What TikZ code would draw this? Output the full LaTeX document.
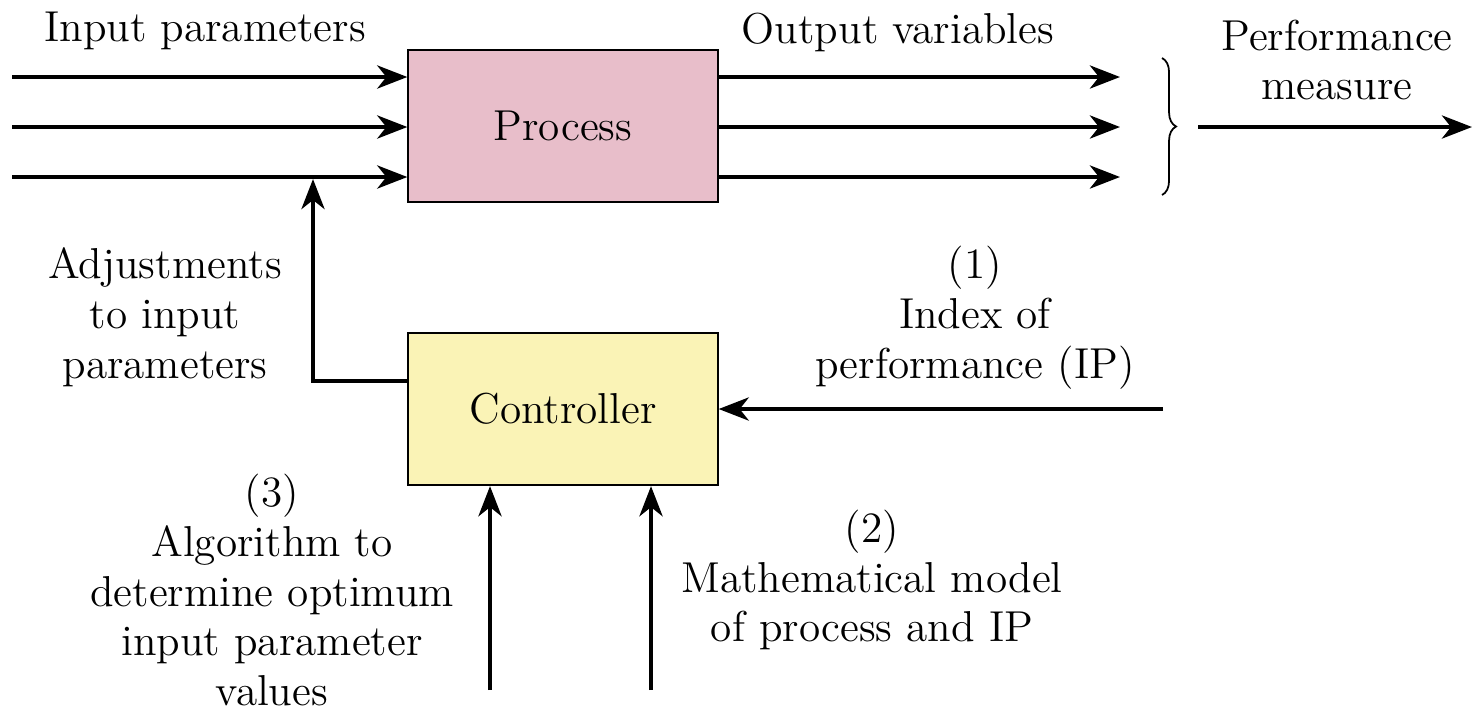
\documentclass[tikz,border=0pt]{standalone}
\usetikzlibrary{arrows.meta,positioning,decorations.pathreplacing}

\definecolor{procpink}{RGB}{232,190,202}
\definecolor{ctrlyellow}{RGB}{250,243,182}

\begin{document}
\begin{tikzpicture}[
    x=0.01cm, y=-0.01cm,
    font=\fontsize{12.3}{14.2}\selectfont,
    box/.style={
      draw, line width=0.6pt,
      minimum width=3.09cm,
      minimum height=1.52cm
    },
    procbox/.style={box, fill=procpink},
    ctrlbox/.style={box, fill=ctrlyellow},
    arr/.style={line width=1.3pt, -{Stealth[length=3mm, width=2.3mm, inset=0.9mm]}},
    lbl/.style={align=center, inner sep=0pt}
  ]
  \useasboundingbox (0,0) rectangle (1474,711);

% --- Blocks ---
    \node[procbox] (process) at (563,126) {Process};
    \node[ctrlbox] (controller) at (563,409) {Controller};

% --- Input parameters (3 lines into the process) ---
    \coordinate (in1) at (12,77);
    \coordinate (in2) at (12,127);
    \coordinate (in3) at (12,177);
    \draw[arr] (in1) -- (in1 -| process.west);
    \draw[arr] (in2) -- (in2 -| process.west);
    \draw[arr] (in3) -- (in3 -| process.west);

% --- Output variables ---
    \coordinate (out1) at (1120,77);
    \coordinate (out2) at (1120,127);
    \coordinate (out3) at (1120,177);
    \draw[arr] (out1 -| process.east) -- (out1);
    \draw[arr] (out2 -| process.east) -- (out2);
    \draw[arr] (out3 -| process.east) -- (out3);

% --- Brace and performance measure ---
    \coordinate (brtop) at (1162,58);
    \coordinate (brbot) at (1162,195);
    \draw[decorate, decoration={brace, amplitude=4pt}, line width=0.5pt] (brtop) -- (brbot);
    \coordinate (pmstart) at (1198,127);
    \coordinate (pmend) at (1472,127);
    \draw[arr] (pmstart) -- (pmend);

% --- Feedback: controller -> input line 3 ---
    \coordinate (adj) at (313,179);
    \draw[arr] ([yshift=0.28cm]controller.west) -| (adj);

% --- Index of performance into controller ---
    \coordinate (ip) at (1163,409);
    \draw[arr] (ip) -- (controller.east);

% --- Algorithm and model into controller ---
    \coordinate (alg) at (490,690);
    \coordinate (model) at (651,690);
    \draw[arr] (alg) -- (alg |- controller.south);
    \draw[arr] (model) -- (model |- controller.south);

% --- Labels ---
    \node[lbl] (inlbl) at (205,31) {Input parameters};
    \node[lbl] (outlbl) at (898,32) {Output variables};
    \node[lbl] (perf) at (1337,60) {Performance\\measure};
    \node[lbl] (adjlbl) at (165,317) {Adjustments\\to input\\parameters};
    \node[lbl] (iplbl) at (975,318) {(1)\\Index of\\performance (IP)};
    \node[lbl] (alglbl) at (272,590) {(3)\\Algorithm to\\determine optimum\\input parameter\\values};
    \node[lbl] (modlbl) at (872,580) {(2)\\Mathematical model\\of process and IP};

  \end{tikzpicture}
\end{document}
